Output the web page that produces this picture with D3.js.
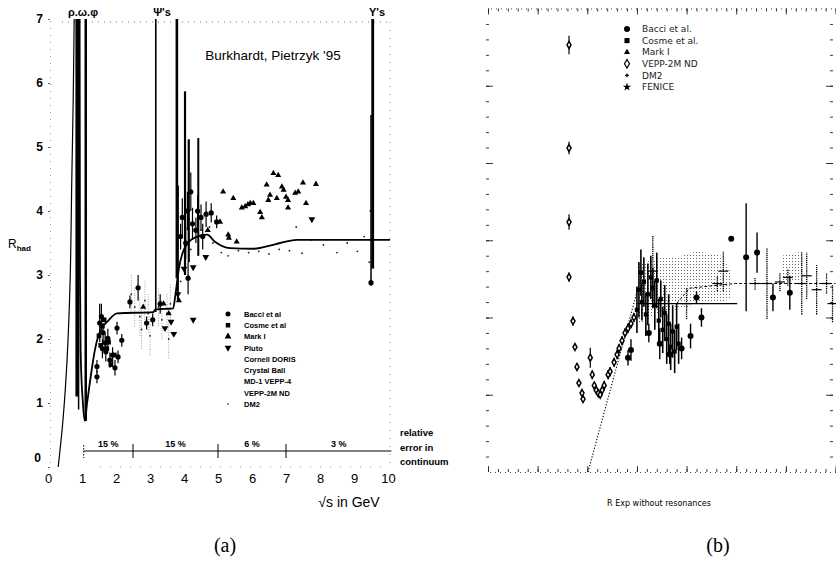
<!DOCTYPE html>
<html>
<head>
<meta charset="utf-8">
<script src="https://cdn.jsdelivr.net/npm/d3@7"></script>
<style>
  body { margin: 0; background: #fff; }
  text { font-family: "Liberation Sans", Arial, sans-serif; fill: #000; }
</style>
</head>
<body>
<div id="wrap"></div>
<script>
//  D3 comes from the global window
const d3 = window.d3;

//  ---------- panel (a) values ----------
const xTicksA = [0, 1, 2, 3, 4, 5, 6, 7, 8, 9, 10];
const yTicksA = [0, 1, 2, 3, 4, 5, 6, 7];

//  rising flank of the rho, then dip, continuum and plateau  [sqrt(s), R]
const curveRise = [[0.3, 0], [0.44, 0.73], [0.56, 1.67], [0.65, 2.9], [0.7, 4.5], [0.74, 5.7], [0.77, 7.0]];
const curveCont = [[0.93, 7], [0.94, 3.0], [0.96, 1.8], [1.02, 1.05], [1.08, 0.72], [1.15, 1.0], [1.28, 1.5],
  [1.38, 1.83], [1.47, 2.03], [1.62, 2.2], [1.76, 2.28], [2.03, 2.4], [3.1, 2.42], [3.15, 2.46], [3.68, 2.48],
  [3.75, 2.7], [3.85, 3.1], [4.0, 3.4], [4.3, 3.58], [4.68, 3.63], [4.91, 3.52], [5.35, 3.42], [6.03, 3.41],
  [6.68, 3.48], [7.32, 3.55], [10.06, 3.55]];

//  resonance spikes  [sqrt(s), top, base, stroke]
const spikes = [[0.85, 7, 1.1, 3], [0.9, 7, 0.9, 1.5], [1.11, 7, 0.72, 2.5], [3.17, 7, 2.42, 1.6],
  [3.79, 7, 2.95, 2.6], [3.82, 4.4, 2.6, 2], [4.03, 5.87, 3.0, 2.2], [4.14, 5.12, 3.2, 2.2],
  [4.42, 5.14, 3.3, 2], [9.55, 7, 3.1, 2.8], [9.5, 5.5, 2.9, 1.5]];

const bacciA = [[1.44, 1.41, 0.1], [1.44, 1.57, 0.1], [1.57, 2.35, 0.2], [1.62, 2.1, 0.15], [1.68, 1.94, 0.15],
  [1.76, 2.01, 0.15], [1.82, 1.67, 0.12], [1.97, 1.55, 0.12], [2.03, 2.17, 0.1], [2.06, 1.72, 0.1],
  [2.17, 1.98, 0.1], [1.52, 2.25, 0.3], [1.6, 1.85, 0.15], [1.7, 1.8, 0.15], [1.9, 1.75, 0.12],
  [2.41, 2.58, 0.1], [2.65, 2.8, 0.2], [2.9, 2.25, 0.1], [3.08, 2.3, 0.1], [3.3, 2.55, 0.15],
  [3.9, 3.6, 0.2], [3.95, 3.9, 0.3], [4.05, 3.5, 0.25], [4.1, 4.0, 0.3], [4.12, 2.95, 0.25],
  [4.2, 4.3, 0.3], [4.25, 3.8, 0.25], [4.35, 3.7, 0.2], [4.4, 4.0, 0.25], [4.5, 3.9, 0.2],
  [4.55, 3.6, 0.2], [4.65, 3.95, 0.2], [4.8, 3.97, 0.15], [4.96, 3.83, 0.1], [9.5, 2.88, 0.05]];
const cosmeA = [[1.5, 2.05], [1.55, 1.9], [1.65, 2.3], [1.73, 1.85], [1.85, 1.6], [1.95, 1.75], [1.6, 2.2], [1.78, 1.95]];
const markA = [[5.15, 4.3], [5.45, 4.2], [5.7, 4.05], [5.8, 4.07], [5.88, 4.1], [5.95, 4.12], [6.04, 4.12],
  [6.24, 3.98], [6.29, 3.9], [6.43, 4.41], [6.53, 4.25], [6.48, 4.17], [6.63, 4.59], [6.77, 4.56],
  [6.73, 4.2], [6.88, 4.38], [6.93, 4.33], [7.06, 4.17], [7.06, 4.05], [7.0, 4.22], [7.27, 4.28],
  [7.36, 4.3], [7.5, 4.44], [7.59, 4.12], [7.88, 4.42], [5.06, 3.83], [5.3, 3.63], [5.55, 3.52],
  [5.32, 3.58], [2.8, 2.5], [3.4, 2.55], [3.55, 2.4], [3.85, 2.6], [4.7, 3.7]];
const plutoA = [[3.44, 2.17], [3.62, 2.27], [3.7, 2.08], [4.27, 2.3], [7.76, 3.87], [4.27, 3.12],
  [4.64, 3.28], [3.82, 2.7], [4.0, 3.1]];
const smallA = [[2.45, 2.7], [2.55, 2.5], [2.7, 2.35], [2.75, 2.15], [2.85, 2.6], [2.95, 2.4], [3.0, 2.05],
  [3.25, 2.5], [3.35, 2.3], [3.5, 2.4], [3.55, 2.0], [3.6, 2.55], [3.9, 2.9], [4.2, 3.4], [4.5, 3.7],
  [4.75, 3.75], [4.85, 3.5], [5.1, 3.35], [5.3, 3.3], [5.6, 3.38], [5.9, 3.35], [6.2, 3.37], [6.5, 3.33],
  [6.8, 3.4], [7.1, 3.38], [7.47, 3.34], [7.75, 3.55], [8.1, 3.47], [8.5, 3.35], [8.8, 3.5], [9.1, 3.37],
  [9.3, 3.6], [7.3, 3.75], [9.45, 3.2], [9.52, 3.55], [9.48, 4.0]];

const legendA = ["Bacci et al", "Cosme et al", "Mark I", "Pluto", "Cornell DORIS", "Crystal Ball",
  "MD-1 VEPP-4", "VEPP-2M ND", "DM2"];
const errBounds = [1.05, 2.5, 5, 7, 10.1];
const errLabels = ["15 %", "15 %", "6 %", "3 %"];

//  ---------- panel (b) values ----------
const veppB = [[8.16, 27.64, 0.6], [8.16, 20.97, 0.4], [8.16, 16.18, 0.5], [8.16, 12.62, 0.3],
  [8.56, 9.77, 0.3], [8.76, 8.09, 0.2], [8.96, 6.8, 0.2], [9.16, 5.76, 0.1], [9.47, 5.11, 0.15],
  [9.57, 4.72, 0.1], [10.3, 7.4, 0.65], [10.5, 6.3, 0.3], [10.7, 5.6, 0.2], [10.9, 5.3, 0.2],
  [11.1, 5.1, 0.2], [11.3, 5.0, 0.2], [11.5, 5.3, 0.2], [11.7, 5.6, 0.3], [12.1, 6.3, 0.3],
  [12.3, 6.5, 0.3], [12.7, 7.1, 0.3], [13.0, 7.6, 0.3], [13.2, 8.0, 0.3], [13.5, 8.5, 0.3],
  [13.8, 9.0, 0.3], [14.1, 9.3, 0.3], [14.4, 9.6, 0.3], [14.7, 10.0, 0.3]];
const bacciB = [[14.4, 7.9, 0.7], [14.1, 7.4, 0.5], [16.2, 9.0, 0.6], [19.5, 8.0, 0.7], [20.4, 8.8, 0.8],
  [21.0, 11.3, 0.4], [21.5, 10.0, 0.6], [24.5, 15.1, 0], [26.0, 13.9, 3.5], [27.1, 14.2, 1.3],
  [28.7, 11.3, 0.9], [30.4, 11.6, 1.1], [18.3, 7.6, 0.6], [17.3, 8.3, 1.0]];
const cosmeB = [[15.0, 10.5, 1.5], [15.2, 11.8, 1.8], [15.4, 12.9, 1.5], [15.5, 11.0, 1.2], [15.7, 12.3, 1.6],
  [15.9, 10.2, 1.4], [16.1, 11.5, 2.0], [16.4, 12.6, 1.4], [16.6, 11.9, 1.3], [16.8, 10.8, 1.6],
  [17.0, 12.4, 1.8], [17.2, 9.8, 1.4], [17.4, 11.2, 1.2], [17.6, 9.2, 1.5], [17.8, 10.3, 1.8],
  [18.0, 8.6, 1.6], [18.2, 9.6, 1.9], [18.4, 8.1, 1.5], [18.6, 9.1, 1.7], [18.8, 7.8, 1.4],
  [19.0, 9.4, 1.5], [19.2, 8.3, 1.3]];
const dm2B = [[23.1, 12.2, 0.5], [23.7, 13.0, 1.3], [28.1, 12.2, 2.3], [30.2, 12.6, 0.55], [31.6, 12.2, 2.0],
  [32.1, 12.7, 1.5], [33.1, 11.8, 1.6], [34.1, 12.2, 0.65], [34.7, 10.9, 1.2], [16.6, 13.0, 2.3],
  [20.0, 10.9, 1.0], [26.9, 12.2, 0.4], [29.4, 12.3, 0.6]];
const partonLine = [[10.07, 0], [15.7, 13.3]];
const solidB = [[15.0, 10.9], [25.1, 10.9]];
const dashedB = [[19.0, 10.9], [20.3, 11.9], [24.9, 12.2], [35, 12.2]];
const bandTop = [[15.0, 13.4], [17, 13.8], [19.5, 14.0], [21, 14.3], [23.5, 14.0], [24.5, 13.0]];
const bandBot = [[15.0, 9.5], [17, 10.2], [19.5, 10.6], [21, 10.8], [23.5, 11.0], [24.5, 11.2]];
const band2Top = [[29.6, 14.0], [31.8, 14.3]];
const band2Bot = [[29.6, 12.3], [31.8, 12.3]];
const legendB = ["Bacci et al.", "Cosme et al.", "Mark I", "VEPP-2M ND", "DM2", "FENICE"];

//  ---------- the svg ----------
const svg = d3.select("#wrap").append("svg").attr("width", 836).attr("height", 562);

const defs = svg.append("defs");
defs.append("clipPath").attr("id", "clipA").append("rect")
  .attr("x", 40).attr("y", 19).attr("width", 360).attr("height", 450);
const pat = defs.append("pattern").attr("id", "stip").attr("width", 3).attr("height", 3)
  .attr("patternUnits", "userSpaceOnUse");
pat.append("rect").attr("width", 1).attr("height", 1).attr("fill", "#666");

const symbolPath = (type, size) => d3.symbol().type(type).size(size)();

//  ================= panel (a) =================
const xA = d3.scaleLinear().domain([0, 10]).range([48, 388]);
const yA = d3.scaleLinear().domain([0, 7]).range([467, 19]);
const gA = svg.append("g");

//  dotted frame
gA.append("line").attr("x1", 62).attr("x2", 390).attr("y1", 22).attr("y2", 22)
  .attr("stroke", "#555").attr("stroke-width", 0.8).attr("stroke-dasharray", "1,5");
gA.append("line").attr("x1", 390).attr("x2", 390).attr("y1", 22).attr("y2", 467)
  .attr("stroke", "#777").attr("stroke-width", 0.8).attr("stroke-dasharray", "1,7");
gA.append("line").attr("x1", 100).attr("x2", 390).attr("y1", 467).attr("y2", 467)
  .attr("stroke", "#888").attr("stroke-width", 0.8).attr("stroke-dasharray", "1,9");

//  axes: labels only
const axB = gA.append("g").attr("transform", "translate(0,467)")
  .call(d3.axisBottom(xA).tickValues(xTicksA).tickSize(0).tickPadding(7).tickFormat(d3.format("d")));
axB.select(".domain").remove();
axB.selectAll("text").style("font-size", "13px").style("font-family", "Liberation Sans, Arial");

const axL = gA.append("g").attr("transform", "translate(50,0)")
  .call(d3.axisLeft(yA).tickValues(yTicksA).tickSize(2).tickPadding(5).tickFormat(d3.format("d")));
axL.select(".domain").attr("stroke", "#999").attr("stroke-dasharray", "1,6");
axL.selectAll("line").attr("stroke", "#666");
axL.selectAll("text").style("font-size", "12px").style("font-weight", "bold")
  .style("font-family", "Liberation Sans, Arial");
axL.selectAll(".tick").filter((d) => d === 0).select("text").attr("dy", "-0.45em").attr("x", -9);

const plotA = gA.append("g").attr("clip-path", "url(#clipA)");

//  small points first so the heavy marks sit on top
plotA.selectAll(".sm").data(smallA).enter().append("circle")
  .attr("cx", (d) => xA(d[0])).attr("cy", (d) => yA(d[1])).attr("r", 0.9).attr("fill", "#222");
plotA.selectAll(".smbar").data(smallA.filter((d, i) => i < 12)).enter().append("line")
  .attr("x1", (d) => xA(d[0])).attr("x2", (d) => xA(d[0]))
  .attr("y1", (d) => yA(d[1] - 0.3)).attr("y2", (d) => yA(d[1] + 0.3))
  .attr("stroke", "#777").attr("stroke-width", 0.7).attr("stroke-dasharray", "1,1.5");

//  spikes
plotA.selectAll(".spike").data(spikes).enter().append("line")
  .attr("x1", (d) => xA(d[0])).attr("x2", (d) => xA(d[0]))
  .attr("y1", (d) => yA(d[1])).attr("y2", (d) => yA(d[2]))
  .attr("stroke", "#000").attr("stroke-width", (d) => d[3]);

//  continuum curves
plotA.append("path").datum(curveRise)
  .attr("d", d3.line().x((d) => xA(d[0])).y((d) => yA(d[1])).curve(d3.curveCatmullRom))
  .attr("fill", "none").attr("stroke", "#000").attr("stroke-width", 1.2);
plotA.append("path").datum(curveCont)
  .attr("d", d3.line().x((d) => xA(d[0])).y((d) => yA(d[1])).curve(d3.curveMonotoneX))
  .attr("fill", "none").attr("stroke", "#000").attr("stroke-width", 1.8);

//  data markers
plotA.selectAll(".bbar").data(bacciA).enter().append("line")
  .attr("x1", (d) => xA(d[0])).attr("x2", (d) => xA(d[0]))
  .attr("y1", (d) => yA(d[1] - d[2])).attr("y2", (d) => yA(d[1] + d[2]))
  .attr("stroke", "#000").attr("stroke-width", 1.2);
plotA.selectAll(".bac").data(bacciA).enter().append("circle")
  .attr("cx", (d) => xA(d[0])).attr("cy", (d) => yA(d[1])).attr("r", 2.6).attr("fill", "#000");
plotA.selectAll(".cos").data(cosmeA).enter().append("path")
  .attr("d", symbolPath(d3.symbolSquare, 22))
  .attr("transform", (d) => `translate(${xA(d[0])},${yA(d[1])})`).attr("fill", "#000");
plotA.selectAll(".mk").data(markA).enter().append("path")
  .attr("d", symbolPath(d3.symbolTriangle, 16))
  .attr("transform", (d) => `translate(${xA(d[0])},${yA(d[1])})`).attr("fill", "#000");
plotA.selectAll(".pl").data(plutoA).enter().append("path")
  .attr("d", symbolPath(d3.symbolTriangle, 20))
  .attr("transform", (d) => `translate(${xA(d[0])},${yA(d[1])}) rotate(180)`).attr("fill", "#000");

//  resonance names and author
gA.append("text").attr("x", 83).attr("y", 16).attr("text-anchor", "middle")
  .style("font-size", "11px").style("font-weight", "bold").text("ρ.ω.φ");
gA.append("text").attr("x", 162).attr("y", 16).attr("text-anchor", "middle")
  .style("font-size", "11px").style("font-weight", "bold").text("Ψ's");
gA.append("text").attr("x", 377).attr("y", 16).attr("text-anchor", "middle")
  .style("font-size", "11px").style("font-weight", "bold").text("Υ's");
gA.append("text").attr("x", 273).attr("y", 60).attr("text-anchor", "middle")
  .style("font-size", "13.5px").text("Burkhardt, Pietrzyk '95");

//  R_had label
const rh = gA.append("text").attr("x", 8).attr("y", 248).style("font-size", "12px");
rh.append("tspan").text("R");
rh.append("tspan").attr("dy", 3).style("font-size", "8px").style("font-weight", "bold").text("had");

//  x label
gA.append("text").attr("x", 349).attr("y", 507).attr("text-anchor", "middle")
  .style("font-size", "14px").text("√s in GeV");

//  legend (a)
const legA = gA.append("g");
const legTypes = [d3.symbolCircle, d3.symbolSquare, d3.symbolTriangle, d3.symbolTriangle];
legendA.forEach((name, i) => {
  const yy = 314 + i * 11.25;
  if (i < 4) {
    legA.append("path").attr("d", symbolPath(legTypes[i], 20))
      .attr("transform", `translate(228,${yy}) ${i === 3 ? "rotate(180)" : ""}`).attr("fill", "#000");
  } else if (i === 8) {
    legA.append("circle").attr("cx", 228).attr("cy", yy).attr("r", 0.8).attr("fill", "#000");
  }
  legA.append("text").attr("x", 244).attr("y", yy + 2.8)
    .style("font-size", "7.5px").style("font-weight", "bold").text(name);
});

//  relative error in continuum band
const errY = yA(0.25);
gA.append("line").attr("x1", xA(errBounds[0])).attr("x2", xA(errBounds[4]))
  .attr("y1", errY).attr("y2", errY).attr("stroke", "#000").attr("stroke-width", 1);
gA.selectAll(".errtick").data(errBounds.slice(1, 4)).enter().append("line")
  .attr("x1", (d) => xA(d)).attr("x2", (d) => xA(d)).attr("y1", errY - 7).attr("y2", errY + 7)
  .attr("stroke", "#000").attr("stroke-width", 1);
gA.append("line").attr("x1", xA(errBounds[0])).attr("x2", xA(errBounds[0]))
  .attr("y1", errY - 6).attr("y2", errY + 7).attr("stroke", "#000").attr("stroke-dasharray", "1.5,1.5");
gA.selectAll(".errlab").data(errLabels).enter().append("text")
  .attr("x", (d, i) => xA((errBounds[i] + errBounds[i + 1]) / 2)).attr("y", errY - 4)
  .attr("text-anchor", "middle").style("font-size", "9px").style("font-weight", "bold").text((d) => d);
["relative", "error in", "continuum"].forEach((t, i) => {
  gA.append("text").attr("x", 400).attr("y", 436 + i * 14.5)
    .style("font-size", "9.5px").style("font-weight", "bold").text(t);
});

gA.append("text").attr("x", 225).attr("y", 552).attr("text-anchor", "middle")
  .style("font-family", "Liberation Serif, DejaVu Serif, serif").style("font-size", "20px").text("(a)");

//  ================= panel (b) =================
const xB = d3.scaleLinear().domain([0, 35]).range([488, 835.5]);
const yB = d3.scaleLinear().domain([0, 30]).range([472, 8.5]);
const gB = svg.append("g");
const minorX = d3.range(0, 36), majorX = d3.range(0, 36, 5);
const minorY = d3.range(0, 31), majorY = d3.range(0, 31, 5);

function tickAxis(axisFn, scale, vals, size, tr, dotted) {
  const g = gB.append("g").attr("transform", tr)
    .call(axisFn(scale).tickValues(vals).tickSize(size).tickFormat(""));
  g.selectAll("line").attr("stroke", "#222").attr("stroke-width", 0.9);
  if (dotted) g.select(".domain").attr("stroke", "#444").attr("stroke-dasharray", "1,4");
  else g.select(".domain").remove();
}
tickAxis(d3.axisBottom, xB, minorX, 3, `translate(0,${yB(30)})`, true);
tickAxis(d3.axisBottom, xB, majorX, 6, `translate(0,${yB(30)})`, false);
tickAxis(d3.axisTop, xB, minorX, 3, `translate(0,${yB(0)})`, true);
tickAxis(d3.axisTop, xB, majorX, 6, `translate(0,${yB(0)})`, false);
tickAxis(d3.axisRight, yB, minorY.slice(1, 30), 3, "translate(486,0)", false);
tickAxis(d3.axisRight, yB, majorY.slice(1, 6), 7, "translate(486,0)", false);
tickAxis(d3.axisLeft, yB, minorY.slice(1, 30), 3, "translate(833,0)", false);
tickAxis(d3.axisLeft, yB, majorY.slice(1, 6), 7, "translate(833,0)", false);

const pB = (d) => `translate(${xB(d[0])},${yB(d[1])})`;

//  stippled uncertainty bands
const bandArea = (top, bot) => d3.area().x((d) => xB(d[0])).y0((d, i) => yB(bot[i][1])).y1((d) => yB(d[1]))(top);
gB.append("path").attr("d", bandArea(bandTop, bandBot)).attr("fill", "url(#stip)");
gB.append("path").attr("d", bandArea(band2Top, band2Bot)).attr("fill", "url(#stip)");

//  theory lines
const lineB = d3.line().x((d) => xB(d[0])).y((d) => yB(d[1]));
gB.append("path").attr("d", lineB(partonLine)).attr("fill", "none")
  .attr("stroke", "#000").attr("stroke-width", 1.1).attr("stroke-dasharray", "1.2,1.8");
gB.append("path").attr("d", lineB(solidB)).attr("fill", "none").attr("stroke", "#000").attr("stroke-width", 1.3);
gB.append("path").attr("d", lineB(dashedB)).attr("fill", "none")
  .attr("stroke", "#000").attr("stroke-width", 1).attr("stroke-dasharray", "3,2");

//  error bars for every series
function errBars(data, w, dash) {
  gB.append("g").selectAll("line").data(data.filter((d) => d[2] > 0)).enter().append("line")
    .attr("x1", (d) => xB(d[0])).attr("x2", (d) => xB(d[0]))
    .attr("y1", (d) => yB(d[1] - d[2])).attr("y2", (d) => yB(d[1] + d[2]))
    .attr("stroke", "#000").attr("stroke-width", w).attr("stroke-dasharray", dash || null);
}
errBars(cosmeB, 1.6);
errBars(bacciB, 1.4);
errBars(dm2B, 1.3, "1.3,0.8");
errBars(veppB, 1.2);

gB.selectAll(".cb").data(cosmeB).enter().append("path")
  .attr("d", symbolPath(d3.symbolSquare, 18)).attr("transform", pB).attr("fill", "#000");
gB.selectAll(".dm").data(dm2B).enter().append("line")
  .attr("x1", (d) => xB(d[0]) - 5).attr("x2", (d) => xB(d[0]) + 5)
  .attr("y1", (d) => yB(d[1])).attr("y2", (d) => yB(d[1])).attr("stroke", "#000").attr("stroke-width", 1.2);
gB.selectAll(".bb").data(bacciB).enter().append("circle")
  .attr("cx", (d) => xB(d[0])).attr("cy", (d) => yB(d[1])).attr("r", 3).attr("fill", "#000");
gB.selectAll(".vb").data(veppB).enter().append("path")
  .attr("d", symbolPath(d3.symbolDiamond, 14)).attr("transform", pB)
  .attr("fill", "#fff").attr("stroke", "#000").attr("stroke-width", 1.5);

//  legend (b)
const legB = gB.append("g");
legendB.forEach((name, i) => {
  const yy = 29 + i * 11.6;
  const tr = `translate(627,${yy})`;
  if (i === 0) legB.append("circle").attr("cx", 627).attr("cy", yy).attr("r", 3).attr("fill", "#000");
  if (i === 1) legB.append("path").attr("d", symbolPath(d3.symbolSquare, 26)).attr("transform", tr).attr("fill", "#000");
  if (i === 2) legB.append("path").attr("d", symbolPath(d3.symbolTriangle, 16)).attr("transform", tr).attr("fill", "#000");
  if (i === 3) legB.append("path").attr("d", symbolPath(d3.symbolDiamond, 22)).attr("transform", tr)
    .attr("fill", "#fff").attr("stroke", "#000").attr("stroke-width", 1.2);
  if (i === 4) legB.append("path").attr("d", symbolPath(d3.symbolCross, 8)).attr("transform", tr).attr("fill", "#000");
  if (i === 5) legB.append("path").attr("d", symbolPath(d3.symbolStar, 22)).attr("transform", tr).attr("fill", "#000");
  legB.append("text").attr("x", 642).attr("y", yy + 3.2)
    .style("font-size", "9px").style("font-family", "DejaVu Sans, sans-serif").style("fill", "#222").text(name);
});

gB.append("text").attr("x", 659).attr("y", 506).attr("text-anchor", "middle")
  .style("font-size", "8px").style("font-family", "DejaVu Sans, sans-serif").text("R Exp without resonances");
gB.append("text").attr("x", 718).attr("y", 552).attr("text-anchor", "middle")
  .style("font-family", "Liberation Serif, DejaVu Serif, serif").style("font-size", "20px").text("(b)");
</script>
</body>
</html>
